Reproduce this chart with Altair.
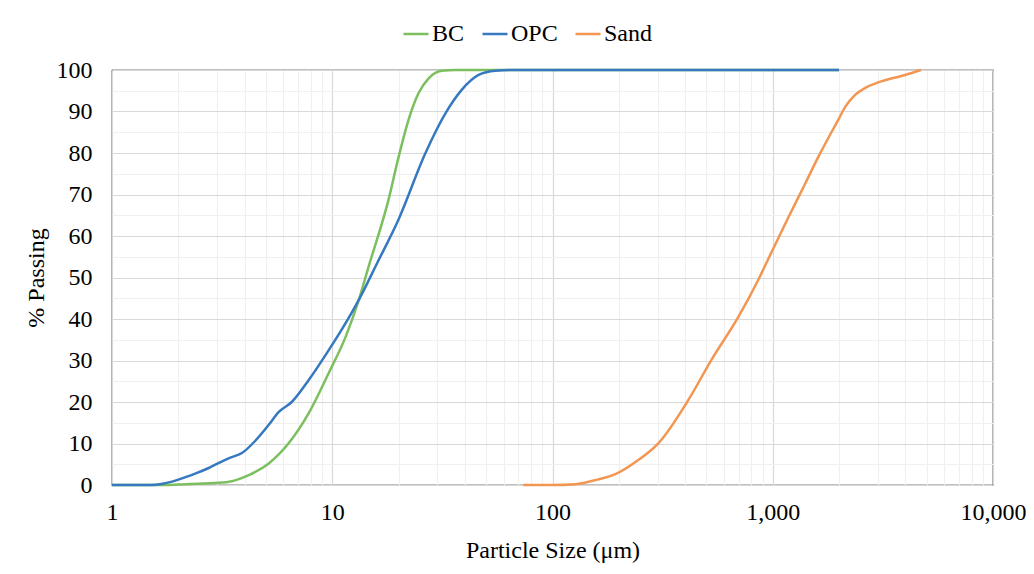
import altair as alt
import pandas as pd

# ---- data ----
series_names = ["BC", "OPC", "Sand"]
series_colors = ["#7CBF5E", "#3679C0", "#F29652"]

bc_size = [1, 1.7, 2.0, 2.75, 3.4, 4.18, 5.15, 6.35, 7.82, 9.64, 11.5, 13.2, 14.6, 18.0, 20, 22.2, 24.7, 27.4, 31.4, 36.3, 100, 2000]
bc_pass = [0, 0, 0.1, 0.4, 0.8, 2.4, 5.2, 10.1, 17.3, 27, 35.7, 44.6, 52.5, 68.7, 79, 88, 94.5, 98, 99.8, 100, 100, 100]

opc_size = [1, 1.5, 1.7, 2.0, 2.4, 2.75, 3.4, 3.89, 4.5, 5.15, 5.72, 6.55, 7.82, 9.64, 11.0, 13.2, 16, 20, 26.5, 32.7, 38.7, 46.2, 55, 68, 100, 2000]
opc_pass = [0, 0, 0.3, 1.3, 2.8, 4.1, 6.5, 7.7, 10.8, 14.5, 17.6, 20, 25.3, 32.5, 37.3, 44.6, 53.5, 64, 80, 89.6, 95.2, 98.8, 99.8, 100, 100, 100]

sand_size = [73.8, 100, 127, 160, 193, 245, 303, 414, 526, 698, 859, 985, 1175, 1403, 1608, 1983, 2133, 2366, 2630, 3008, 3990, 4710]
sand_pass = [0, 0, 0.2, 1.3, 2.6, 6.0, 10.1, 20.5, 30.1, 40.5, 49.4, 56.0, 64.4, 72.6, 79.0, 88, 91.1, 94.0, 95.7, 97.0, 98.8, 100]

x_ticks = [m * 10 ** k for k in range(4) for m in range(1, 10)] + [10000]
y_ticks = list(range(0, 101, 5))

rows = []
for name, xs, ys in [("BC", bc_size, bc_pass), ("OPC", opc_size, opc_pass), ("Sand", sand_size, sand_pass)]:
    for i, (a, b) in enumerate(zip(xs, ys)):
        rows.append({"series": name, "size": a, "passing": b, "order": i})
df = pd.DataFrame(rows)

FONT = "Liberation Serif"
major_test = "indexof([1,10,100,1000,10000], datum.value) >= 0"

chart = alt.Chart(df).mark_line(strokeWidth=2.5, interpolate="monotone").encode(
    x=alt.X("size:Q",
            scale=alt.Scale(type="log", domain=[1, 10000], nice=False),
            axis=alt.Axis(values=x_ticks, title="Particle Size (μm)",
                          labelExpr=major_test + " ? format(datum.value, ',') : ''",
                          gridColor={"condition": {"test": major_test, "value": "#D9D9D9"}, "value": "#F0F0F0"},
                          gridWidth=1.2, ticks=False, tickSize=0, domain=False,
                          labelPadding=15, titlePadding=14, labelFlush=False,
                          labelOverlap=False)),
    y=alt.Y("passing:Q",
            scale=alt.Scale(domain=[0, 100], nice=False),
            axis=alt.Axis(values=y_ticks, title="% Passing",
                          labelExpr="datum.value % 10 == 0 ? datum.label : ''",
                          gridColor={"condition": {"test": "datum.value % 10 == 0", "value": "#D9D9D9"}, "value": "#F0F0F0"},
                          gridWidth=1.2, ticks=False, tickSize=0, domain=False,
                          labelPadding=20, titlePadding=8, labelOverlap=False)),
    color=alt.Color("series:N",
                    scale=alt.Scale(domain=series_names, range=series_colors),
                    legend=alt.Legend(title=None, orient="none", direction="horizontal",
                                      legendX=290, legendY=-50, symbolType="stroke",
                                      symbolSize=625, symbolStrokeWidth=2.5,
                                      labelOffset=2, columnPadding=12, padding=0)),
    order="order:Q",
).properties(
    width=881, height=415,
    autosize=alt.AutoSizeParams(type="none"),
    padding={"left": 104, "top": 62, "right": 33, "bottom": 80},
).configure_view(
    stroke="black", strokeWidth=1.2
).configure_axis(
    labelFont=FONT, titleFont=FONT, labelFontSize=24, titleFontSize=24,
    labelColor="black", titleColor="black", titleFontWeight="normal"
).configure_legend(
    labelFont=FONT, labelFontSize=24, labelColor="black"
)

chart.save("out.html", embed_options={"renderer": "svg", "actions": False})
